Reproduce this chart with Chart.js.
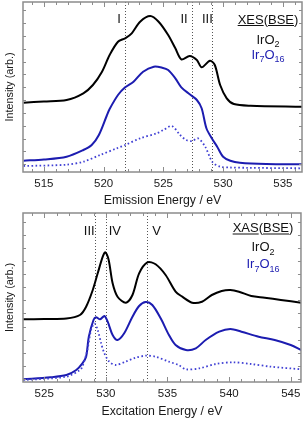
<!DOCTYPE html>
<html>
<head>
<meta charset="utf-8">
<script src="https://cdn.jsdelivr.net/npm/chart.js@4.4.1/dist/chart.umd.min.js"></script>
<style>
  html, body { margin: 0; padding: 0; background: #fff; }
  #wrap { position: relative; width: 305px; height: 422px; }
  canvas { position: absolute; left: 0; }
  #xes { top: 0; }
  #xas { top: 210px; }
</style>
</head>
<body>
<div id="wrap">
  <canvas id="xes" width="305" height="210"></canvas>
  <canvas id="xas" width="305" height="212"></canvas>
</div>
<script>
// XES (top) — energies in eV, intensities in arb. units
const xesIrO2E = [513.3, 515, 516.9, 518.3, 519.1, 519.85, 520.5, 521.2, 521.8, 522.35, 523.05, 523.9, 524.6, 525.4, 526, 526.5, 527.2, 527.8, 528.2, 528.9, 529.3, 529.75, 530.3, 530.9, 532.3, 536.6];
const xesIrO2I = [69.3, 70.5, 72, 78.7, 87, 100, 117, 130.3, 133.7, 138.7, 150.3, 156, 150.3, 137, 123.7, 112.7, 116, 112, 104.7, 111.3, 107, 87, 73.7, 68, 66.3, 65.3];
const xesIr7E = [513.3, 515, 516.9, 518.3, 519.0, 519.6, 520.25, 520.5, 521.2, 521.8, 522.5, 523.3, 524.2, 524.9, 525.4, 526, 526.5, 527.2, 527.8, 528.2, 528.6, 529.05, 529.5, 530, 530.6, 531.4, 533.6, 536.6];
const xesIr7I = [11.3, 12.5, 15.3, 22, 27, 37, 56, 63, 77, 84.7, 90.3, 100.3, 105.3, 104.3, 102, 93.7, 84.7, 77.7, 72, 63.7, 43.7, 33.7, 25.3, 15.3, 11.3, 9.3, 8, 7.7];
const xesDiffE = [513.3, 516.9, 518.3, 519.7, 521.1, 521.8, 523.05, 524.45, 525, 525.7, 526.4, 526.9, 527.4, 527.9, 528.5, 529.1, 529.75, 530.6, 532, 536.6];
const xesDiffI = [6, 7.3, 10.3, 17, 23.7, 27, 33.7, 38.7, 42, 46, 37, 32, 31, 33.7, 25.3, 10, 5.3, 4.5, 4.2, 3.7];
const xesMarks = ['I', 'II', 'III'];
const xesMarkE = [521.8, 527.4, 529.1];

// XAS (bottom)
const xasIrO2E = [523.3, 525, 526.8, 527.9, 528.4, 528.94, 529.34, 529.75, 529.96, 530.23, 530.55, 530.95, 531.63, 532.16, 532.7, 533.37, 534.04, 534.85, 535.66, 536.2, 537.0, 537.8, 538.6, 539.4, 540.1, 540.8, 541.8, 542.9, 544.2, 545.85];
const xasIrO2I = [62.7, 63, 63.5, 67, 75.3, 92, 108.7, 125.3, 129.7, 122, 98.7, 85.3, 79.3, 87, 108.7, 119.7, 117.7, 107, 90.3, 85.3, 79.3, 80.3, 87, 91, 92, 90.3, 86, 84.3, 82, 79.3];
const xasIr7E = [523.3, 525.5, 526.8, 527.6, 528.1, 528.4, 528.62, 529.0, 529.2, 529.54, 529.88, 530.15, 530.55, 530.95, 531.49, 532.16, 532.7, 533.24, 533.77, 534.45, 535.12, 535.66, 536.5, 537.3, 538.1, 539.2, 540.1, 541.0, 542.4, 543.7, 545.0, 545.85];
const xasIr7I = [2.7, 4.7, 7, 12, 18.7, 25.3, 45.3, 62, 64.7, 62.7, 66, 60.3, 47, 42, 48.7, 65.3, 76, 80, 77, 63.7, 47, 37, 32, 33.7, 42, 50.3, 53, 50.3, 45.3, 42, 37, 32];
const xasDiffE = [523.3, 526.8, 527.9, 528.1, 528.5, 528.8, 529.08, 529.34, 529.62, 529.88, 530.28, 530.8, 531.6, 532.4, 533.24, 534.04, 535.12, 535.9, 536.5, 537.6, 538.9, 540.3, 541.8, 543.4, 545.85];
const xasDiffI = [2, 5.3, 12, 15.3, 32, 52, 58.7, 52, 38.7, 28.7, 20.3, 17, 20.3, 24.3, 26.3, 25.3, 20.3, 17, 12.7, 13.7, 18, 19.7, 18, 15.3, 12.7];
const xasMarks = ['III', 'IV', 'V'];
const xasMarkE = [529.1, 530.0, 533.3];

const FONT = '"Liberation Sans", Arial, Helvetica, sans-serif';
const BLUE = '#1c1cb0';
const FRAME = '#8c8c8c';

function pts(e, v) {
  return e.map((x, i) => ({ x: x, y: v[i] }));
}

// text pieces: [text, subscript?]
function drawFormula(ctx, parts, cx, y, color) {
  let w = 0;
  parts.forEach(([t, sub]) => {
    ctx.font = (sub ? '9px ' : '13px ') + FONT;
    w += ctx.measureText(t).width;
  });
  let x = cx - w / 2;
  ctx.fillStyle = color;
  ctx.textAlign = 'left';
  ctx.textBaseline = 'alphabetic';
  parts.forEach(([t, sub]) => {
    ctx.font = (sub ? '9px ' : '13px ') + FONT;
    ctx.fillText(t, x, sub ? y + 3.5 : y);
    x += ctx.measureText(t).width;
  });
}

function drawHeader(ctx, name, cx, y) {
  const parts = [[name, true], ['(', false], ['BSE', true], [')', false]];
  ctx.font = '13px ' + FONT;
  let w = 0;
  parts.forEach(p => { w += ctx.measureText(p[0]).width; });
  let x = cx - w / 2;
  ctx.fillStyle = '#111';
  ctx.textAlign = 'left';
  ctx.textBaseline = 'alphabetic';
  parts.forEach(([t, ul]) => {
    const tw = ctx.measureText(t).width;
    ctx.fillText(t, x, y);
    if (ul) ctx.fillRect(x, y + 1.5, tw, 1);
    x += tw;
  });
}

const deco = {
  id: 'deco',
  beforeDatasetsDraw(chart) {
    const o = chart.options.plugins.deco;
    const ctx = chart.ctx, a = chart.chartArea, xs = chart.scales.x;
    ctx.save();
    ctx.strokeStyle = '#555';
    ctx.lineWidth = 1;
    ctx.setLineDash([1, 2]);
    o.lines.forEach(e => {
      const px = Math.round(xs.getPixelForValue(e)) + 0.5;
      ctx.beginPath();
      ctx.moveTo(px, a.top);
      ctx.lineTo(px, a.bottom);
      ctx.stroke();
    });
    ctx.restore();
  },
  afterDraw(chart) {
    const o = chart.options.plugins.deco;
    const ctx = chart.ctx, a = chart.chartArea, xs = chart.scales.x, ys = chart.scales.y;
    ctx.save();
    // frame + inward ticks
    ctx.strokeStyle = FRAME;
    ctx.lineWidth = 1.5;
    ctx.strokeRect(a.left, a.top, a.right - a.left, a.bottom - a.top);
    ctx.lineWidth = 1;
    ctx.beginPath();
    for (let e = Math.ceil(xs.min); e <= xs.max; e++) {
      const px = Math.round(xs.getPixelForValue(e)) + 0.5;
      const len = e % 5 === 0 ? 5 : 3;
      ctx.moveTo(px, a.bottom); ctx.lineTo(px, a.bottom - len);
      ctx.moveTo(px, a.top); ctx.lineTo(px, a.top + len);
    }
    for (let v = o.yStart; v < ys.max; v += o.yStep) {
      const py = Math.round(ys.getPixelForValue(v)) + 0.5;
      ctx.moveTo(a.left, py); ctx.lineTo(a.left + 3, py);
      ctx.moveTo(a.right, py); ctx.lineTo(a.right - 3, py);
    }
    ctx.stroke();

    // peak labels
    ctx.fillStyle = '#111';
    ctx.font = '13px ' + FONT;
    ctx.textAlign = 'center';
    ctx.textBaseline = 'alphabetic';
    o.marks.forEach((t, i) => {
      ctx.fillText(t, xs.getPixelForValue(o.markE[i]) + o.markDx[i], a.top + o.markY);
    });

    drawHeader(ctx, o.head, o.cx, a.top + o.headY);
    drawFormula(ctx, [['IrO', false], ['2', true]], o.cx, a.top + o.f1Y, '#111');
    drawFormula(ctx, [['Ir', false], ['7', true], ['O', false], ['16', true]], o.cx, a.top + o.f2Y, BLUE);
    ctx.restore();
  }
};

function makeChart(id, sets, xr, ymax, xTitle, top, xh, tickPad, titlePadB, d) {
  return new Chart(document.getElementById(id), {
    type: 'line',
    data: {
      datasets: [
        { data: pts(sets[4], sets[5]), borderColor: '#4040d4', borderWidth: 1.8, borderDash: [1.6, 2.4] },
        { data: pts(sets[2], sets[3]), borderColor: BLUE, borderWidth: 2 },
        { data: pts(sets[0], sets[1]), borderColor: '#000', borderWidth: 2 }
      ]
    },
    options: {
      responsive: false,
      animation: false,
      events: [],
      layout: { padding: { top: top, right: 305 - 23 - 279 - (id === 'xas' ? 1 : 0), left: 0, bottom: 0 } },
      elements: {
        point: { radius: 0 },
        line: { tension: 0.3, fill: false }
      },
      scales: {
        x: {
          type: 'linear', min: xr[0], max: xr[1],
          grid: { display: false, drawTicks: false },
          border: { display: false },
          afterFit: s => { s.height = xh; },
          ticks: {
            stepSize: 5, includeBounds: false, autoSkip: false, maxRotation: 0,
            padding: tickPad, color: '#1a1a1a', font: { family: FONT, size: 11.5 }
          },
          title: {
            display: true, text: xTitle, color: '#1a1a1a',
            font: { family: FONT, size: 12.3 }, padding: { top: 0, bottom: titlePadB }
          }
        },
        y: {
          min: 0, max: ymax,
          grid: { display: false, drawTicks: false },
          border: { display: false },
          afterFit: s => { s.width = 23; },
          ticks: { display: false },
          title: {
            display: true, text: 'Intensity (arb.)', color: '#1a1a1a',
            font: { family: FONT, size: 10.8 }, padding: { top: 3.5, bottom: 0 }
          }
        }
      },
      plugins: {
        legend: { display: false },
        tooltip: { enabled: false },
        deco: d
      }
    },
    plugins: [deco]
  });
}

makeChart('xes',
  [xesIrO2E, xesIrO2I, xesIr7E, xesIr7I, xesDiffE, xesDiffI],
  [513.25, 536.6], 170, 'Emission Energy / eV', 2, 38, 4.5, 1.6,
  { lines: xesMarkE, marks: xesMarks, markE: xesMarkE, markDx: [-6, -8, -5], markY: 21,
    head: 'XES', cx: 268, headY: 21.5, f1Y: 41.5, f2Y: 56.5, yStart: 7.7, yStep: 12.85 });

makeChart('xas',
  [xasIrO2E, xasIrO2I, xasIr7E, xasIr7I, xasDiffE, xasDiffI],
  [523.28, 545.83], 169, 'Excitation Energy / eV', 3, 40, 4.6, 3.1,
  { lines: xasMarkE, marks: xasMarks, markE: xasMarkE, markDx: [-5.5, 9, 10], markY: 22,
    head: 'XAS', cx: 263, headY: 19, f1Y: 38, f2Y: 55, yStart: 3.1, yStep: 13.1 });
</script>
</body>
</html>
